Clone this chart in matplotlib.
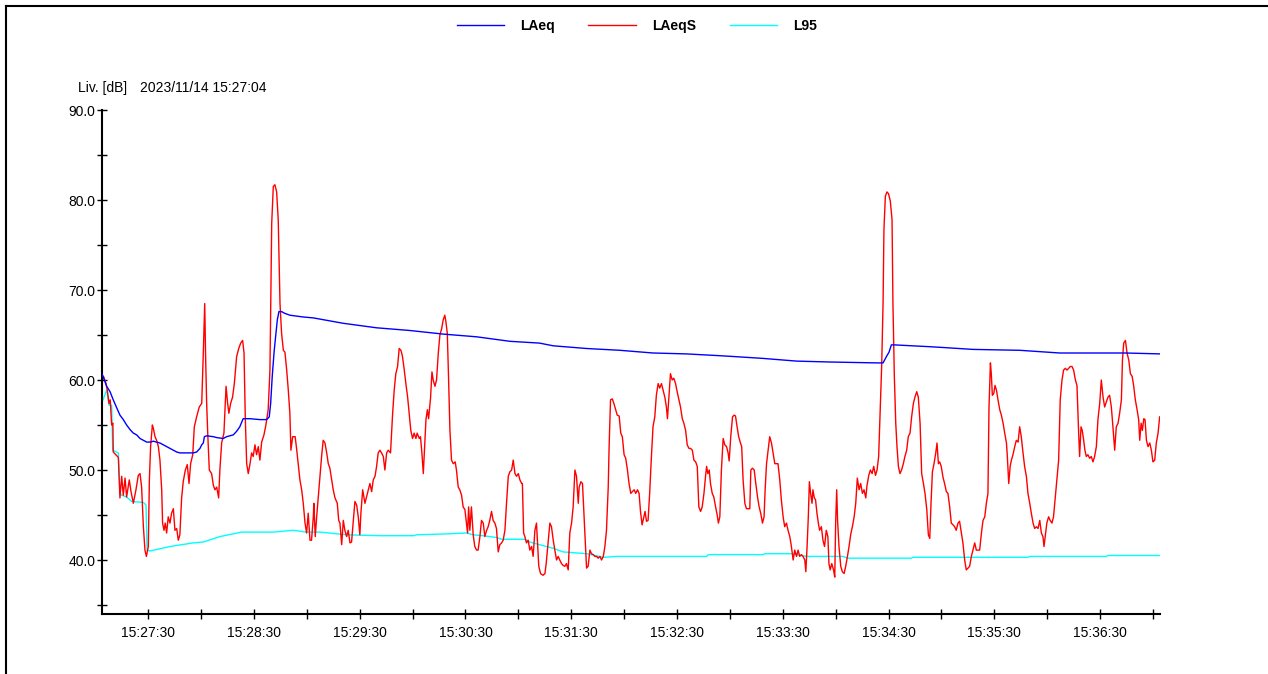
import datetime as dt

import matplotlib

matplotlib.use("Agg")
import matplotlib.pyplot as plt
from matplotlib.lines import Line2D
from matplotlib.ticker import FixedLocator, FuncFormatter

plt.rcParams["font.family"] = ["Liberation Sans", "DejaVu Sans"]

# Recording start and series (seconds since start, level in dB)
START = dt.datetime(2023, 11, 14, 15, 27, 4)
Y_LABEL = "Liv. [dB]"
SERIES_NAMES = ["LAeq", "LAeqS", "L95"]

laeq_t = [0, 2.5, 4.4, 6.2, 8.2, 10, 11.9, 13.8, 15.7, 17.6, 19.5, 21.4, 23.3, 25.2, 27.1, 29,
          30.8, 32.7, 34.6, 36.5, 38.4, 40.3, 42.2, 44, 51.6, 53.5, 55.4, 56.4, 57.3, 57.9, 59.2,
          63, 64.9, 68.6, 70.5, 72.4, 74.3, 76.2, 78, 79.9, 83.8, 89.4, 93.2, 94.7, 95.5, 96.4,
          97.4, 98.3, 99.3, 100.2, 101.7, 103.6, 106.4, 110.2, 114, 119.7, 136.7, 155.6, 174.5,
          193.4, 212.3, 231.2, 248, 255.8, 274.7, 293.6, 312.4, 331.3, 350.3, 358.8, 374.8,
          393.8, 412.6, 439.2, 442.9, 444.8, 446.3, 447.6, 449.5, 469.4, 477.8, 493.9, 520.4,
          543.1, 580.4, 600]
laeq_db = [60.6, 59.3, 58.7, 57.8, 56.9, 56.1, 55.6, 55.0, 54.5, 54.1, 53.9, 53.5, 53.3, 53.1,
           53.1, 53.2, 53.1, 53.0, 52.8, 52.6, 52.4, 52.2, 52.0, 51.9, 51.9, 52.0, 52.4, 52.8,
           53.0, 53.7, 53.8, 53.7, 53.6, 53.5, 53.7, 53.8, 53.9, 54.3, 54.8, 55.7, 55.7, 55.6,
           55.6, 55.9, 57.4, 60.4, 63.0, 64.8, 66.7, 67.6, 67.6, 67.4, 67.2, 67.1, 67.0, 66.9,
           66.3, 65.8, 65.5, 65.1, 64.8, 64.3, 64.1, 63.8, 63.5, 63.3, 63.0, 62.9, 62.7, 62.6,
           62.4, 62.1, 62.0, 61.9, 61.9, 62.6, 63.1, 63.9, 63.9, 63.7, 63.6, 63.4, 63.3, 63.0,
           63.0, 62.9]

laeqs_t = [
    0.7, 2.1, 2.8, 3.8, 4.5, 5.3, 6.0, 6.2, 9.1, 10, 11, 11.9, 12.9, 13.8, 15.3, 16.3, 17.6,
    19.1, 20.4, 21.4, 22.3, 23.3, 24.2, 25, 26.1, 26.7, 27.4, 28.4, 29, 29.9, 30.8, 31.8, 32.7,
    33.7, 34.2, 35, 35.7, 36.5, 37.4, 38.4, 39.3, 40.3, 41.2, 42.2, 43.1, 44, 45, 45.9, 47.1,
    48.2, 49.2, 50.1, 51.3, 52.2, 53.5, 55, 56.4, 57.3, 58.1, 58.6, 59.2, 59.8, 60.7, 62, 63,
    63.9, 64.9, 66, 66.7, 67.7, 69, 70.2, 71.1, 71.8, 72.8, 73.9, 74.9, 76.2, 77.4, 78.5, 79.6,
    80.4, 81.1, 81.9, 82.8, 83.8, 84.7, 85.6, 86.6, 87.5, 88.5, 89.4, 90.4, 91.7, 92.8, 94.1,
    95.1, 96.1, 97, 97.9, 98.9, 99.8, 100.8, 101.7, 102.7, 103.6, 104.6, 105.5, 106.4, 107, 108,
    109.4, 110.2, 111.1, 112.1, 113.1, 114, 115, 115.9, 116.8, 117.8, 118.7, 119.7, 120, 120.8,
    121.6, 122.5, 123.5, 124.4, 125.3, 126.3, 127.3, 128.2, 129.1, 130.1, 131, 132, 133.3,
    134.1, 134.8, 135.8, 136.7, 137.6, 138.6, 139.5, 140.5, 141.4, 142.4, 143.3, 144.3, 145.2,
    146.1, 146.7, 147.7, 149, 149.9, 150.9, 151.8, 152.8, 153.7, 154.7, 155.6, 156.5, 157.5,
    158.4, 159.4, 160.3, 161.3, 162.2, 163.5, 164.7, 165.6, 166.5, 167.5, 168.4, 169.4, 170.3,
    171.3, 172.2, 173.2, 174.1, 175, 176, 176.9, 177.9, 178.6, 179.8, 180.5, 181.3, 182.1,
    182.8, 183.6, 184.4, 185.1, 186.2, 187, 187.7, 188.7, 189.6, 190.6, 191.5, 192.5, 193.4,
    194.3, 194.9, 195.7, 196.4, 197.2, 198.1, 199.1, 200.2, 200.9, 201.9, 202.8, 203.8, 204.7,
    205.7, 206.6, 207.2, 207.8, 208.5, 209.4, 210.4, 211.3, 212.3, 213.2, 214.2, 215.1, 216.1,
    217, 218, 218.9, 219.8, 220.8, 221.7, 222.7, 223.6, 224.6, 225.5, 226.5, 227.4, 228.4,
    229.3, 230.3, 231.2, 232.2, 233.1, 234.1, 235, 236, 236.9, 237.9, 238.3, 239.0, 239.7,
    240.6, 241.6, 242.5, 243.5, 244.4, 245.4, 246.3, 246.9, 247.6, 248.6, 250, 251.1, 251.8,
    252.9, 253.9, 254.8, 255.8, 256.7, 257.7, 258.6, 259.5, 260.5, 261.4, 262.4, 263.3, 264.3,
    265.2, 266.2, 267.1, 268.1, 269, 270, 270.5, 271.5, 272.4, 273.1, 274.1, 274.7, 275.6,
    276.6, 277.5, 278.5, 279.4, 280.4, 281.3, 282.3, 283.2, 284.2, 285.1, 286, 287, 287.5,
    288.3, 289.3, 290.2, 291.2, 292.1, 293.2, 294.1, 295, 296, 296.9, 297.9, 298.8, 299.8,
    300.7, 301.7, 302.6, 303.6, 304.5, 305.3, 306.2, 307.2, 307.9, 308.7, 309.6, 310.5, 311.5,
    312.4, 313.4, 314.3, 315.3, 316.2, 317.2, 318.1, 319.1, 320, 320.6, 321.4, 322.3, 323.3,
    324.2, 325.2, 326.1, 327.1, 328, 329, 329.9, 330.9, 331.8, 332.8, 333.7, 334.7, 335.6,
    336.6, 337.5, 338.4, 339.4, 340.3, 341.3, 342.2, 342.8, 343.5, 344.3, 345, 346, 346.9,
    347.9, 348.8, 349.5, 350.3, 351.2, 352.2, 353.1, 354.1, 355, 355.6, 356.5, 357.5, 358.4,
    359.2, 360.1, 361, 362, 362.7, 363.5, 364.5, 365.4, 367.3, 367.9, 368.8, 369.8, 370.7,
    371.7, 372.6, 373.5, 374.5, 375.4, 376, 376.8, 377.7, 378.6, 379.6, 380.5, 381.5, 383.3,
    384.3, 385.2, 386.2, 387.1, 388.1, 389, 390, 390.9, 391.9, 392.8, 393.8, 394.7, 395.6,
    396.6, 397.5, 398.5, 399.1, 399.8, 400.5, 401.1, 401.8, 402.6, 403.1, 403.9, 404.6, 405.4,
    406.2, 406.9, 407.9, 408.8, 409.7, 410.7, 411.6, 412.2, 412.9, 413.8, 414.8, 415.5, 416,
    416.6, 417.1, 417.9, 418.9, 419.8, 420.8, 421.7, 422.7, 423.6, 424.6, 425.5, 426.5, 427.4,
    428.3, 429.3, 430.2, 431.2, 432.1, 433.1, 433.8, 434.8, 435.7, 436.7, 437.6, 438.6, 439.5,
    440.4, 441.4, 442.1, 442.9, 443.4, 444.2, 445.1, 446, 447, 448, 448.5, 449.3, 450.1, 450.8,
    451.6, 452.5, 453.4, 454.4, 455.3, 456.3, 457.2, 458.2, 459.1, 460.1, 461, 462, 462.9,
    463.9, 464.8, 465.8, 466.7, 467.7, 468.6, 469.4, 470.1, 470.9, 471.8, 472.8, 473.5, 474.3,
    475, 475.9, 476.9, 477.8, 478.8, 479.7, 480.7, 481.6, 482.6, 483.5, 484.4, 485.4, 486.3,
    487.3, 488.2, 489.2, 490.1, 491.1, 492, 493, 493.9, 494.9, 495.8, 497.7, 498.7, 499.6,
    500.6, 501.5, 502.4, 503, 503.8, 504.3, 504.9, 505.7, 506.4, 507.2, 508.1, 509.1, 510, 511,
    511.9, 512.9, 513.4, 514.2, 515, 515.7, 516.6, 517.6, 518.5, 519.5, 520.4, 521.3, 522.3,
    523.2, 524.2, 525.1, 526.1, 527, 528, 528.9, 529.9, 530.8, 531.8, 532.7, 533.6, 534.2,
    535.1, 535.8, 536.8, 537.7, 538.7, 539.6, 540.6, 541.5, 542.5, 543.4, 544.4, 545.3, 546.3,
    547.2, 548.2, 549.1, 550.1, 551, 552, 552.9, 553.8, 554.4, 555.2, 555.9, 556.7, 557.4,
    558.2, 559.1, 560.1, 561, 562, 562.9, 563.9, 564.8, 565.8, 566.7, 567.7, 568.6, 569.6,
    570.5, 571.4, 572.4, 573.3, 574.3, 575.2, 576.2, 577.1, 578.1, 578.7, 579.4, 580.4, 581.3,
    582.3, 583.2, 584.2, 585.1, 586, 587, 587.9, 588.5, 589.3, 590, 590.8, 591.5, 592.3, 593.2,
    594.2, 595.1, 596, 597, 597.9, 598.9, 599.8]
laeqs_db = [
    60.4, 59.6, 58.9, 57.4, 57.8, 55.0, 55.2, 52.0, 51.4, 46.9, 49.3, 47.2, 49.1, 47.0, 48.9,
    47.6, 46.3, 47.8, 49.4, 49.6, 48.1, 43.7, 41.1, 40.4, 41.5, 48.9, 52.6, 55.0, 54.6, 53.7,
    53.3, 52.6, 51.1, 47.8, 44.1, 43.3, 44.1, 43.0, 44.8, 44.1, 45.2, 45.7, 43.3, 43.5, 42.2,
    42.8, 46.9, 48.7, 50.0, 50.6, 48.5, 50.7, 51.7, 54.8, 55.9, 57.0, 57.4, 63.0, 68.5, 62.6,
    57.4, 54.1, 50.0, 49.6, 48.3, 47.8, 48.1, 46.9, 50.0, 53.0, 54.1, 59.3, 57.4, 56.3, 57.4,
    58.1, 59.6, 62.6, 63.5, 64.1, 64.4, 63.0, 55.9, 50.7, 49.6, 50.7, 51.9, 51.5, 52.8, 51.7,
    52.6, 51.1, 53.1, 53.9, 55.0, 56.7, 61.1, 77.4, 81.5, 81.7, 80.9, 77.8, 68.5, 65.2, 63.3,
    63.1, 61.1, 58.9, 56.3, 52.2, 53.7, 53.7, 52.4, 50.7, 48.9, 47.8, 46.3, 44.1, 43.0, 45.2,
    42.2, 42.2, 44.8, 46.3, 42.6, 44.8, 47.0, 49.3, 51.5, 53.3, 53.0, 51.9, 50.7, 50.2, 48.9,
    47.8, 46.9, 46.3, 44.4, 44.1, 41.7, 44.4, 43.3, 42.6, 43.3, 41.9, 42.0, 44.4, 46.5, 46.1,
    44.8, 42.8, 45.2, 47.8, 46.3, 47.0, 47.8, 48.5, 47.6, 48.9, 49.3, 50.4, 51.9, 52.2, 51.9,
    51.5, 50.0, 51.9, 52.2, 51.9, 56.3, 58.9, 60.7, 61.5, 63.5, 63.3, 62.6, 61.1, 59.6, 58.1,
    56.3, 54.4, 53.5, 54.1, 53.5, 54.1, 53.5, 53.7, 51.9, 49.6, 52.4, 55.6, 56.7, 55.7, 58.0,
    60.9, 60.0, 59.3, 60.0, 63.0, 65.0, 65.7, 66.7, 67.2, 66.5, 65.2, 60.4, 54.4, 51.1, 50.7,
    50.9, 50.0, 48.1, 47.8, 47.2, 45.9, 45.6, 44.1, 43.0, 45.9, 43.3, 45.9, 42.8, 41.5, 41.1,
    41.1, 42.6, 44.4, 44.1, 42.6, 43.3, 43.7, 44.4, 45.4, 44.4, 44.1, 43.5, 40.9, 41.7, 41.9,
    42.2, 43.3, 46.3, 49.3, 49.8, 50.0, 51.1, 49.6, 49.3, 49.6, 48.9, 48.5, 48.5, 43.0, 42.6,
    41.9, 42.2, 41.1, 41.5, 40.4, 43.3, 44.1, 41.9, 39.3, 38.5, 38.3, 38.5, 39.6, 41.9, 44.1,
    43.7, 42.2, 41.1, 40.0, 40.4, 40.0, 39.6, 39.4, 39.3, 39.6, 38.9, 43.0, 44.1, 45.9, 50.0,
    49.3, 46.3, 48.1, 48.7, 48.5, 45.6, 41.5, 39.1, 39.3, 41.1, 40.7, 40.6, 40.4, 40.4, 40.2,
    40.4, 40.0, 40.4, 41.5, 43.3, 48.1, 52.6, 57.8, 57.9, 57.4, 56.7, 56.1, 56.0, 54.1, 53.7,
    51.7, 51.3, 50.0, 48.5, 47.4, 47.6, 47.8, 47.4, 47.8, 47.4, 45.4, 43.9, 44.8, 45.4, 44.3,
    44.4, 47.4, 51.5, 54.8, 55.9, 58.3, 59.6, 59.1, 59.6, 58.9, 58.1, 57.0, 55.7, 58.1, 60.7,
    60.0, 60.2, 59.6, 58.7, 57.8, 57.0, 55.7, 55.2, 54.4, 52.8, 52.4, 52.4, 52.2, 51.1, 50.9,
    50.4, 45.9, 45.4, 45.9, 47.4, 49.3, 50.4, 49.6, 50.0, 48.5, 47.4, 47.0, 45.9, 45.0, 44.1,
    44.8, 50.0, 53.5, 52.8, 52.6, 51.9, 51.0, 53.7, 55.9, 56.1, 56.0, 54.8, 53.7, 53.0, 52.6,
    48.9, 46.3, 45.7, 45.7, 50.0, 50.2, 50.0, 48.5, 47.0, 45.9, 45.2, 44.1, 44.8, 47.8, 50.7,
    52.2, 53.7, 53.0, 51.9, 50.7, 50.7, 48.9, 46.7, 44.8, 43.7, 44.1, 43.3, 42.6, 41.5, 40.0,
    41.1, 40.4, 41.1, 40.4, 40.6, 40.4, 40.0, 38.7, 41.5, 44.8, 48.7, 47.4, 46.3, 47.8, 46.9,
    46.7, 45.2, 44.1, 43.3, 43.7, 42.2, 41.5, 43.3, 42.6, 39.6, 38.9, 39.6, 38.9, 38.1, 44.1,
    47.8, 44.4, 41.5, 39.3, 38.7, 38.5, 39.3, 40.4, 41.5, 42.9, 43.7, 44.8, 46.3, 49.1, 47.8,
    48.5, 47.4, 47.8, 46.9, 48.3, 49.4, 50.0, 49.6, 50.4, 49.4, 50.0, 51.5, 57.4, 61.5, 68.5,
    76.7, 80.4, 80.9, 80.7, 79.9, 77.8, 68.5, 60.4, 55.2, 52.6, 50.4, 49.6, 50.0, 50.7, 51.5,
    52.2, 53.7, 54.1, 55.9, 57.4, 58.1, 58.7, 58.1, 55.2, 49.6, 48.5, 47.4, 45.6, 42.8, 42.4,
    46.3, 49.8, 50.7, 51.9, 53.0, 50.7, 50.9, 50.4, 49.2, 48.5, 47.6, 47.4, 45.9, 44.1, 43.9,
    43.7, 43.3, 44.1, 44.3, 43.0, 41.9, 40.0, 38.9, 39.1, 39.3, 40.4, 41.1, 41.9, 41.1, 41.1,
    43.0, 44.4, 44.8, 46.3, 47.4, 57.0, 61.9, 60.7, 58.3, 58.5, 59.4, 58.9, 57.8, 56.7, 56.1,
    55.2, 54.1, 53.0, 51.5, 48.5, 50.4, 51.1, 51.7, 52.6, 53.3, 53.1, 54.8, 53.7, 51.9, 50.4,
    49.3, 47.4, 46.3, 45.2, 44.1, 43.5, 43.7, 43.5, 44.4, 43.0, 42.6, 41.5, 43.0, 44.1, 44.8,
    44.4, 44.1, 44.8, 47.0, 48.9, 51.1, 57.8, 60.0, 61.1, 61.3, 61.1, 61.3, 61.5, 61.5, 61.1,
    60.0, 59.4, 54.4, 51.5, 54.8, 54.4, 53.3, 52.2, 51.5, 51.7, 51.3, 51.5, 50.9, 51.5, 52.6,
    55.6, 57.4, 60.0, 58.1, 57.0, 57.6, 58.1, 58.3, 57.0, 54.8, 52.2, 54.8, 55.2, 56.3, 57.8,
    62.2, 64.1, 64.4, 63.0, 62.2, 60.7, 60.4, 59.3, 57.8, 56.7, 55.6, 53.3, 55.2, 54.4, 55.7,
    55.6, 53.3, 52.6, 53.0, 52.2, 50.9, 51.1, 53.0, 54.1, 55.9]

l95_t = [0, 2.5, 3.8, 5.3, 5.9, 9.1, 10, 11, 13.8, 16.7, 23.3, 24.8, 25.4, 27, 38.4, 51.6, 57.3,
         66.7, 79, 97, 108.3, 115.9, 123.5, 138.6, 157.5, 176.4, 178.3, 195.3, 206.6, 210.4,
         216.1, 223.6, 226.5, 239.7, 242.5, 248, 255.8, 261.4, 274.7, 284.2, 291.7, 342.8,
         343.7, 375, 375.8, 390.9, 399.4, 420.2, 423, 459, 459.9, 525.1, 526.1, 569.6, 570.5, 600]
l95_db = [57.6, 58.9, 57.2, 57.2, 52.2, 51.9, 47.4, 47.2, 47.0, 46.5, 46.4, 46.1, 41.1, 41.0,
          41.5, 41.9, 42.0, 42.6, 43.1, 43.1, 43.3, 43.1, 43.1, 42.8, 42.7, 42.7, 42.8, 42.9,
          43.0, 42.8, 42.7, 42.5, 42.3, 42.3, 42.0, 41.7, 41.3, 40.9, 40.7, 40.3, 40.4, 40.4,
          40.6, 40.6, 40.7, 40.7, 40.4, 40.4, 40.2, 40.2, 40.3, 40.3, 40.4, 40.4, 40.5, 40.5]


def time_label(x, pos):
    return (START + dt.timedelta(seconds=float(x))).strftime("%H:%M:%S")


def make_plot():
    W, H = 1268, 674
    fig = plt.figure(figsize=(W / 100, H / 100), dpi=100)
    ax = fig.add_axes([102.3 / W, 1 - 614 / H, (1160 - 102.3) / W, (614 - 110) / H])

    ax.plot(laeqs_t, laeqs_db, color="#ff0000", lw=1.0, zorder=3, label=SERIES_NAMES[1])
    ax.plot(l95_t, l95_db, color="#00ffff", lw=1.0, zorder=2, label=SERIES_NAMES[2])
    ax.plot(laeq_t, laeq_db, color="#0000ff", lw=1.0, zorder=4, label=SERIES_NAMES[0])

    ax.set_xlim(0, 600)
    ax.set_ylim(34, 90)
    for side in ("top", "right"):
        ax.spines[side].set_visible(False)
    for side in ("left", "bottom"):
        ax.spines[side].set_linewidth(1.5)
        ax.spines[side].set_color("black")

    # ticks every half minute, labels on the :30 marks
    first_half = 30 - START.second
    ax.xaxis.set_major_locator(FixedLocator(list(range(first_half, 600, 60))))
    ax.xaxis.set_minor_locator(FixedLocator(list(range(first_half + 30, 600, 60))))
    ax.xaxis.set_major_formatter(FuncFormatter(time_label))
    ax.yaxis.set_major_locator(FixedLocator(list(range(40, 91, 10))))
    ax.yaxis.set_minor_locator(FixedLocator(list(range(35, 90, 10))))
    ax.yaxis.set_major_formatter(FuncFormatter(lambda v, p: f"{v:.1f}"))
    ax.tick_params(axis="both", which="both", direction="inout", length=7, width=1,
                   color="black", labelsize=10)
    ax.tick_params(axis="x", which="major", pad=5)
    ax.tick_params(axis="y", which="major", pad=1.5)

    fig.text(77.7 / W, 1 - 88 / H, Y_LABEL, va="center", size=10)
    fig.text(140 / W, 1 - 88 / H, START.strftime("%Y/%m/%d %H:%M:%S"), va="center", size=10)

    handles, labels = ax.get_legend_handles_labels()
    order = [labels.index(n) for n in SERIES_NAMES]
    fig.legend([handles[i] for i in order], [labels[i] for i in order],
               loc="center", bbox_to_anchor=(637 / W, 1 - 26 / H), ncol=3, frameon=False,
               prop={"weight": "bold", "size": 10}, handlelength=3.4, handletextpad=1.2,
               columnspacing=2.4)

    # window frame (top and left edges)
    fig.add_artist(Line2D([6 / W, 1], [1 - 6 / H, 1 - 6 / H], color="black", lw=1.5))
    fig.add_artist(Line2D([6 / W, 6 / W], [0, 1 - 6 / H], color="black", lw=1.5))

    fig.savefig("out.png", dpi=100)


if __name__ == "__main__":
    make_plot()
